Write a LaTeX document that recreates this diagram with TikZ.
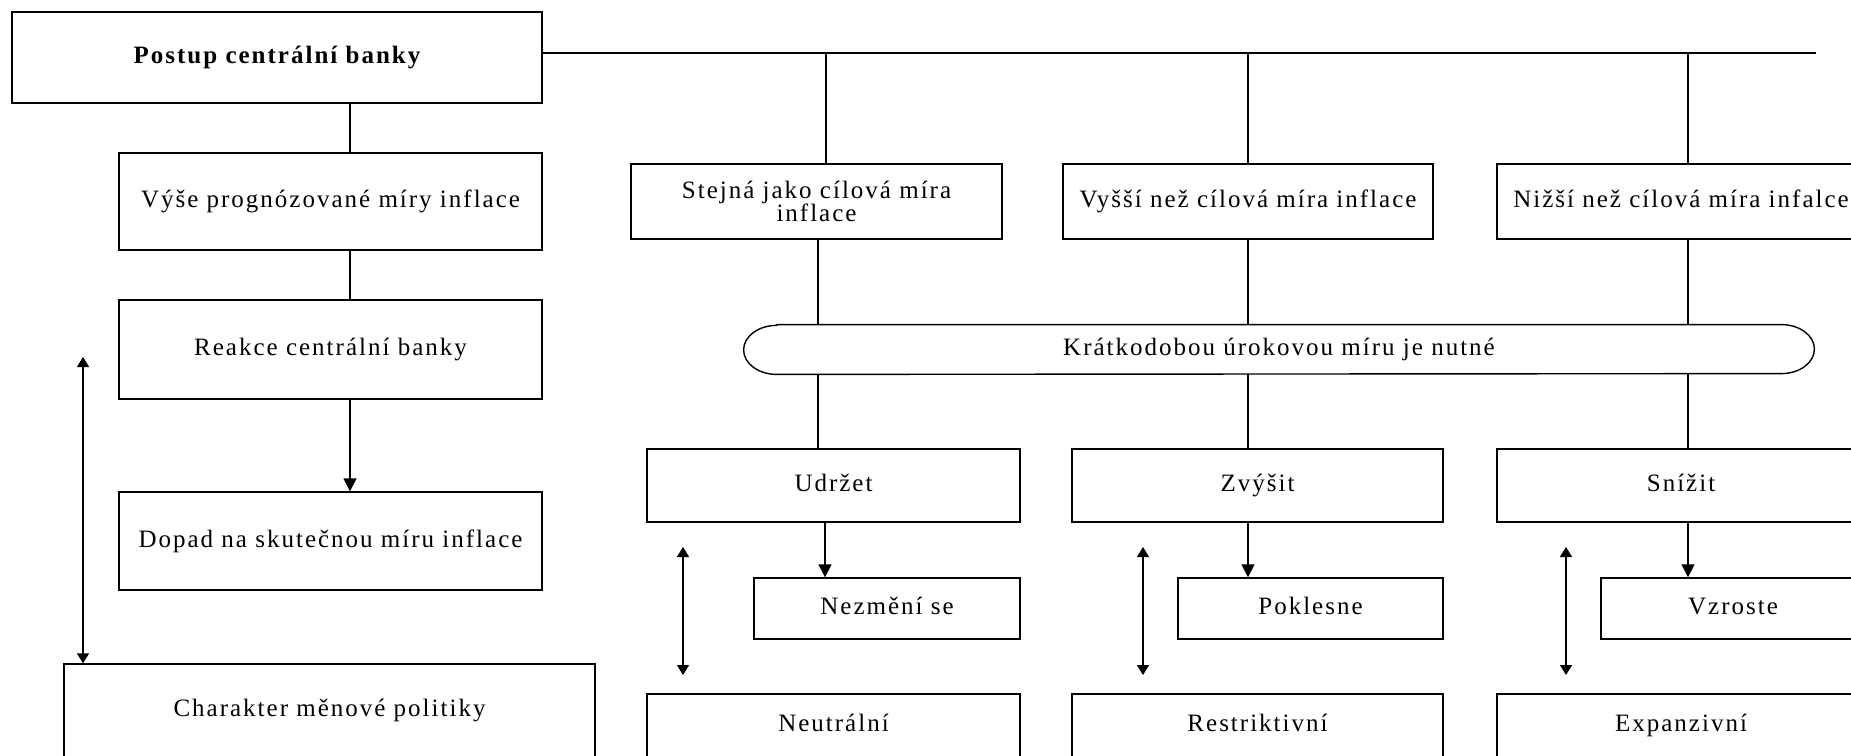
\documentclass[tikz,border=0pt]{standalone}
\usepackage{fontspec}
\setmainfont{Liberation Serif}[LetterSpace=8]
\usetikzlibrary{arrows.meta}
\begin{document}
\begin{tikzpicture}[x=0.5pt,y=-0.5pt,
  every node/.style={font=\fontsize{12.5pt}{12pt}\selectfont, inner sep=0pt},
  box/.style={draw, line width=0.7pt, rectangle, align=center, text height=8.8pt, text depth=2.5pt},
  box2/.style={draw, line width=0.7pt, rectangle, align=center},
  wh/.style 2 args={minimum width=#1*0.5pt, minimum height=#2*0.5pt},
  conn/.style={line width=0.7pt},
  arr/.style={line width=0.7pt, -{Triangle[length=6.5pt,width=6.5pt]}},
  dbl/.style={line width=0.7pt, {Triangle[length=5pt,width=6pt]}-{Triangle[length=5pt,width=6pt]}}
]
\useasboundingbox (0,0) rectangle (1851,755);
\clip (0,0) rectangle (1851,755);

% left column
\node[box, wh={530}{91}] (top) at (277,57.5) {\bfseries Postup centrální banky};
\node[box, wh={423}{97}] (v1) at (330.5,201.5) {Výše prognózované míry inflace};
\node[box, wh={423}{99}] (r) at (330.5,349.5) {Reakce centrální banky};
\node[box, wh={423}{98}] (d) at (330.5,541) {Dopad na skutečnou míru inflace};
\node[box, wh={531}{93}] (ch) at (329.5,710.5) {Charakter měnové politiky};

% first row
\node[box2, wh={371}{75}] (s) at (816.5,201.5) {Stejná jako cílová míra\\[-0.5pt]inflace};
\node[box, wh={370}{75}] (vy) at (1248,201.5) {Vyšší než cílová míra inflace};
\node[box, wh={368}{75}] (ni) at (1681,201.5) {Nižší než cílová míra infalce};

% pill
\node[wh={1070}{49}, text height=8.8pt, text depth=2.5pt] (pill) at (1279,349.5) {Krátkodobou úrokovou míru je nutné};
\draw[conn] ([xshift=16.5pt]pill.north west) -- ([xshift=-16.5pt]pill.north east)
  arc[start angle=90,end angle=-90,x radius=16.5pt,y radius=12.25pt]
  -- ([xshift=16.5pt]pill.south west)
  arc[start angle=270,end angle=90,x radius=16.5pt,y radius=12.25pt] -- cycle;

% second row
\node[box, wh={373}{73}] (u) at (833.5,485.5) {Udržet};
\node[box, wh={371}{73}] (z) at (1257.5,485.5) {Zvýšit};
\node[box, wh={368}{73}] (sn) at (1681,485.5) {Snížit};

% third row
\node[box, wh={266}{61}] (nz) at (887,608.5) {Nezmění se};
\node[box, wh={265}{61}] (p) at (1310.5,608.5) {Poklesne};
\node[box, wh={264}{61}] (vz) at (1733,608.5) {Vzroste};

% fourth row
\node[box, wh={373}{63}] (ne) at (833.5,725.5) {Neutrální};
\node[box, wh={371}{63}] (re) at (1257.5,725.5) {Restriktivní};
\node[box, wh={368}{63}] (ex) at (1681,725.5) {Expanzivní};

% left column connectors
\coordinate (xa) at (350,0);
\draw[conn] (top.south -| xa) -- (v1.north -| xa);
\draw[conn] (v1.south -| xa) -- (r.north -| xa);
\draw[arr] (r.south -| xa) -- (d.north -| xa);
\coordinate (dl) at (83,357);
\draw[dbl] (dl) -- (ch.north -| dl);

% horizontal bus
\coordinate (hl) at (0,53);
\coordinate (hend) at (1816,53);
\draw[conn] (top.east |- hl) -- (hend);
\coordinate (b1) at (826,53);
\coordinate (b2) at (1248,53);
\coordinate (b3) at (1688,53);
\draw[conn] (b1) -- (s.north -| b1);
\draw[conn] (b2) -- (vy.north -| b2);
\draw[conn] (b3) -- (ni.north -| b3);

% to and from pill
\coordinate (l1) at (818,0);
\draw[conn] (s.south -| l1) -- (pill.north -| l1);
\draw[conn] (vy.south -| b2) -- (pill.north -| b2);
\draw[conn] (ni.south -| b3) -- (pill.north -| b3);
\draw[conn] (pill.south -| l1) -- (u.north -| l1);
\draw[conn] (pill.south -| b2) -- (z.north -| b2);
\draw[conn] (pill.south -| b3) -- (sn.north -| b3);

% arrows down
\coordinate (a1) at (825,0);
\draw[arr] (u.south -| a1) -- (nz.north -| a1);
\draw[arr] (z.south -| b2) -- (p.north -| b2);
\draw[arr] (sn.south -| b3) -- (vz.north -| b3);

% double arrows
\coordinate (d1t) at (683,547); \coordinate (d1b) at (683,675);
\coordinate (d2t) at (1143,547); \coordinate (d2b) at (1143,675);
\coordinate (d3t) at (1566,547); \coordinate (d3b) at (1566,675);
\draw[dbl] (d1t) -- (d1b);
\draw[dbl] (d2t) -- (d2b);
\draw[dbl] (d3t) -- (d3b);
\end{tikzpicture}
\end{document}
